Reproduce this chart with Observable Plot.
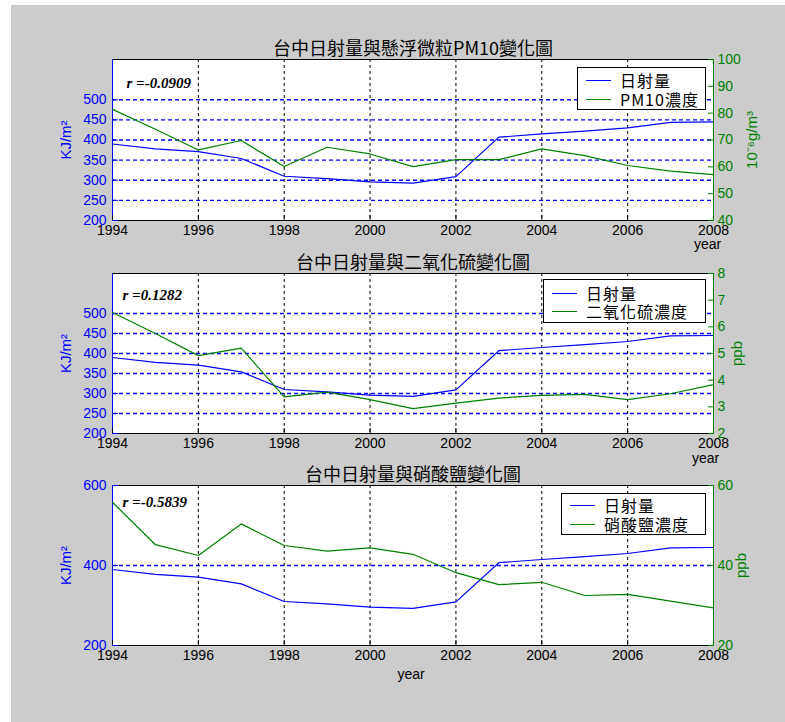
<!DOCTYPE html>
<html>
<head>
<meta charset="utf-8">
<script src="https://cdn.jsdelivr.net/npm/d3@7"></script>
<script src="https://cdn.jsdelivr.net/npm/@observablehq/plot@0.6"></script>
<style>
  body { margin: 0; width: 785px; height: 722px; position: relative; overflow: hidden; background: #ffffff; }
  #bg { position: absolute; left: 11px; top: 5px; width: 774px; height: 717px; background: #cccccc; }
  .layer { position: absolute; left: 0; }
  .legend { position: absolute; background: #ffffff; border: 1px solid #000; box-sizing: border-box;
            font-family: 'Noto Sans CJK TC', sans-serif; font-size: 16px; letter-spacing: 1px; color: #000; }
  .legend .row { position: absolute; left: 0; right: 0; height: 18px; }
  .legend .swatch { position: absolute; left: 8px; width: 25px; top: 9px; height: 0; border-top: 1.3px solid; }
  .legend .lbl { position: absolute; left: 42px; top: 0; line-height: 18px; white-space: nowrap; }
</style>
</head>
<body>
<div id="bg"></div>
<div id="root"></div>
<script>
// Yearly series, Taichung 1994–2008
const years = [1994, 1995, 1996, 1997, 1998, 1999, 2000, 2001, 2002, 2003, 2004, 2005, 2006, 2007, 2008];
const solar = [390, 378, 371, 354, 310, 304, 296, 293, 309, 407, 415, 422, 430, 444, 445];       // KJ/m²
const pm10 = [81.4, 74, 66.3, 69.8, 60.1, 67.3, 64.8, 60.1, 62.7, 62.7, 66.7, 64.2, 60.5, 58.4, 57.1]; // 10⁻⁶g/m³
const so2 = [6.54, 5.75, 4.92, 5.2, 3.37, 3.55, 3.27, 2.93, 3.14, 3.33, 3.43, 3.47, 3.27, 3.49, 3.83]; // ppb
const nitrate = [55.8, 45.2, 42.5, 50.4, 45, 43.6, 44.4, 42.8, 38.2, 35.2, 35.8, 32.5, 32.8, 31.1, 29.4]; // ppb

const xTicks = [1994, 1996, 1998, 2000, 2002, 2004, 2006, 2008];
const xGrid = [1996, 1998, 2000, 2002, 2004, 2006];

const titles = ["台中日射量與懸浮微粒PM10變化圖", "台中日射量與二氧化硫變化圖", "台中日射量與硝酸鹽變化圖"];
const seriesNames = ["PM10濃度", "二氧化硫濃度", "硝酸鹽濃度"];
const solarName = "日射量";
const rLabels = ["r =-0.0909", "r =0.1282", "r =-0.5839"];
const leftLabel = "KJ/m²";
const rightLabels = ["10⁻⁶g/m³", "ppb", "ppb"];
const xLabel = "year";

const leftTicks = [[200, 250, 300, 350, 400, 450, 500], [200, 250, 300, 350, 400, 450, 500], [200, 400, 600]];
const leftGrid = [[250, 300, 350, 400, 450, 500], [250, 300, 350, 400, 450, 500], [400]];
const rightTicks = [[40, 50, 60, 70, 80, 90, 100], [2, 3, 4, 5, 6, 7, 8], [20, 40, 60]];
const leftDomain = [200, 600];
const rightDomains = [[40, 100], [2, 8], [20, 60]];
const rightSeries = [pm10, so2, nitrate];

const BLUE = "#0000ff";
const GREEN = "#008000";
const SANS = "'Liberation Sans', 'Noto Sans CJK TC', sans-serif";
const CJK = "'Noto Sans CJK TC', sans-serif";
const SERIF = "'Liberation Serif', serif";
const plain = d => String(d);

// per-panel frame placement and label offsets
const panels = [
  {plotTop: 59, plotBottom: 220, rx: 14, ry: 18, yearAnchor: "bottom-right", yearDx: -6, yearDy: 28, rightDx: 39,
   legend: {left: 577, top: 67, width: 129, height: 43, r1: 3, r2: 22}},
  {plotTop: 273, plotBottom: 433, rx: 10, ry: 16, yearAnchor: "bottom-right", yearDx: -8, yearDy: 29, rightDx: 24,
   legend: {left: 543, top: 279, width: 163, height: 44, r1: 4, r2: 22}},
  {plotTop: 485, plotBottom: 645, rx: 10, ry: 11, yearAnchor: "bottom", yearDx: -2, yearDy: 33, rightDx: 28,
   legend: {left: 561, top: 493, width: 145, height: 42, r1: 2, r2: 21}}
];

const W = 785, MT = 40, MB = 45, ML = 112, MR = 72;
const root = document.getElementById("root");

panels.forEach((p, i) => {
  const h = p.plotBottom - p.plotTop + MT + MB;
  const top = p.plotTop - MT;
  const common = {
    width: W, height: h, marginTop: MT, marginBottom: MB, marginLeft: ML, marginRight: MR,
    style: {background: "transparent", fontFamily: SANS, fontSize: "14px", overflow: "visible"},
    x: {domain: [1994, 2008], axis: null}
  };

  // left axis layer: frame, grids, x axis, solar radiation line, texts
  const left = Plot.plot({
    ...common,
    y: {domain: leftDomain, axis: null},
    marks: [
      Plot.frame({fill: "white", stroke: "none"}),
      Plot.ruleY(leftGrid[i], {stroke: BLUE, strokeDasharray: "4,3", strokeWidth: 1.3}),
      Plot.ruleX(xGrid, {stroke: "black", strokeDasharray: "3,3", strokeWidth: 1}),
      Plot.frame({stroke: "black"}),
      Plot.ruleX([1994], {stroke: BLUE}),
      Plot.axisX({ticks: xTicks, tickFormat: plain, tickSize: -5, tickPadding: 10, color: "black", label: null}),
      Plot.axisY({ticks: leftTicks[i], tickFormat: plain, tickSize: -6, tickPadding: 12, color: BLUE, label: null}),
      Plot.lineY(years, {x: years, y: solar, stroke: BLUE, strokeWidth: 1.2}),
      Plot.text([titles[i]], {text: d => d, frameAnchor: "top", dy: -17, fontSize: 18, fontFamily: CJK, fill: "black"}),
      Plot.text([rLabels[i]], {text: d => d, frameAnchor: "top-left", dx: p.rx, dy: p.ry, textAnchor: "start",
        fontFamily: SERIF, fontStyle: "italic", fontWeight: "bold", fontSize: 15, fill: "black"}),
      Plot.text([leftLabel], {text: d => d, frameAnchor: "left", dx: -46, rotate: -90, textAnchor: "middle",
        fill: BLUE, fontSize: 15}),
      Plot.text([xLabel], {text: d => d, frameAnchor: p.yearAnchor, dx: p.yearDx, dy: p.yearDy, textAnchor: "middle",
        fill: "black", fontSize: 14})
    ]
  });
  left.classList.add("layer");
  left.style.top = top + "px";
  root.appendChild(left);

  // right axis layer: pollutant line on its own scale
  const right = Plot.plot({
    ...common,
    y: {domain: rightDomains[i], axis: null},
    marks: [
      Plot.ruleX([2008], {stroke: GREEN}),
      Plot.axisY({anchor: "right", ticks: rightTicks[i], tickFormat: plain, tickSize: -6, tickPadding: 10, color: GREEN, label: null}),
      Plot.lineY(years, {x: years, y: rightSeries[i], stroke: GREEN, strokeWidth: 1.2}),
      Plot.text([rightLabels[i]], {text: d => d, frameAnchor: "right", dx: p.rightDx, rotate: -90, textAnchor: "middle",
        fill: GREEN, fontSize: 15})
    ]
  });
  right.classList.add("layer");
  right.style.top = top + "px";
  root.appendChild(right);

  // legend box
  const lg = p.legend;
  const box = document.createElement("div");
  box.className = "legend";
  Object.assign(box.style, {left: lg.left + "px", top: lg.top + "px", width: lg.width + "px", height: lg.height + "px"});
  [[solarName, BLUE, lg.r1], [seriesNames[i], GREEN, lg.r2]].forEach(([name, color, y]) => {
    const row = document.createElement("div");
    row.className = "row";
    row.style.top = y + "px";
    const sw = document.createElement("div");
    sw.className = "swatch";
    sw.style.borderTopColor = color;
    const tx = document.createElement("div");
    tx.className = "lbl";
    tx.textContent = name;
    row.appendChild(sw);
    row.appendChild(tx);
    box.appendChild(row);
  });
  root.appendChild(box);
});
</script>
</body>
</html>
